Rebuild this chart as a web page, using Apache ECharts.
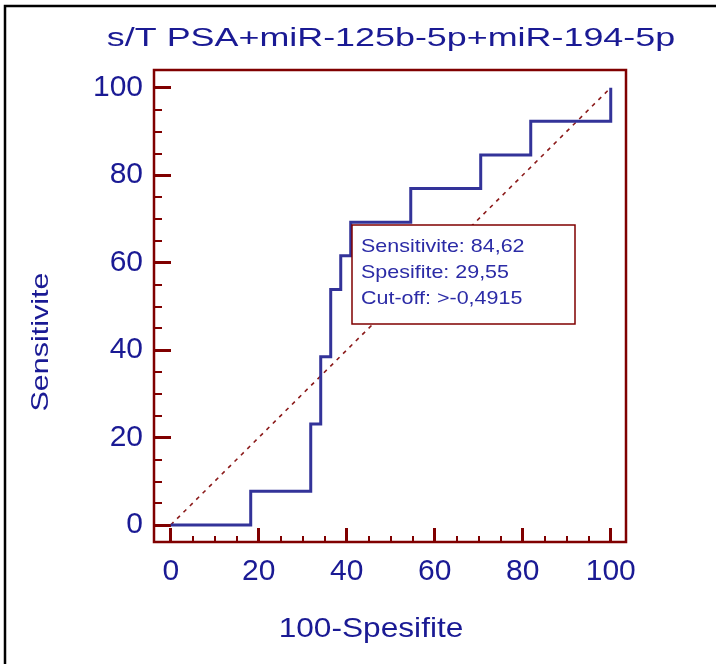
<!DOCTYPE html>
<html>
<head>
<meta charset="utf-8">
<script src="https://cdn.jsdelivr.net/npm/echarts@6/dist/echarts.min.js"></script>
<style>
html,body{margin:0;padding:0;background:#fff;}
#chart{width:716px;height:664px;}
</style>
</head>
<body>
<div id="chart"></div>
<script>
// ---- data ----
const titleText = 's/T PSA+miR-125b-5p+miR-194-5p';
const xAxisName = '100-Spesifite';
const yAxisName = 'Sensitivite';
// ROC step curve vertices (100-Specificity, Sensitivity)
const rocX = [0, 18.18, 18.18, 31.82, 31.82, 34.09, 34.09, 36.36, 36.36, 38.64, 38.64, 40.91, 40.91, 54.55, 54.55, 70.45, 70.45, 81.82, 81.82, 100, 100];
const rocY = [0, 0, 7.69, 7.69, 23.08, 23.08, 38.46, 38.46, 53.85, 53.85, 61.54, 61.54, 69.23, 69.23, 76.92, 76.92, 84.62, 84.62, 92.31, 92.31, 100];
// reference diagonal
const diagX = [0, 100];
const diagY = [0, 100];
// axis ticks
const majorTicks = [0, 20, 40, 60, 80, 100];
const minorTicks = [5, 10, 15, 25, 30, 35, 45, 50, 55, 65, 70, 75, 85, 90, 95];
// annotation
const annotationLines = ['Sensitivite: 84,62', 'Spesifite: 29,55', 'Cut-off: >-0,4915'];

// ---- styles ----
const FONT = "'Liberation Sans', Arial, sans-serif";
const TEXT = '#1a1a94';
const FRAME = '#800000';
const LINE = '#333399';

const xRange = {min: -3.8, max: 103.47};
const yRange = {min: -3.89, max: 104.04};

function xAxisDef(ticks, len, w, labels) {
  return {
    type: 'value', gridIndex: 0, position: 'bottom', min: xRange.min, max: xRange.max,
    axisLine: {show: false, onZero: false}, splitLine: {show: false},
    axisTick: {show: true, inside: true, length: len, customValues: ticks,
      lineStyle: {color: FRAME, width: w}},
    axisLabel: labels ? {show: true, customValues: ticks, fontSize: 30, color: TEXT,
      fontFamily: FONT, margin: 15} : {show: false}
  };
}
function yAxisDef(ticks, len, w, labels) {
  return {
    type: 'value', gridIndex: 0, position: 'left', min: yRange.min, max: yRange.max,
    axisLine: {show: false, onZero: false}, splitLine: {show: false},
    axisTick: {show: true, inside: true, length: len, customValues: ticks,
      lineStyle: {color: FRAME, width: w}},
    axisLabel: labels ? {show: true, customValues: ticks, fontSize: 30, color: TEXT,
      fontFamily: FONT, margin: 11} : {show: false}
  };
}

const chart = echarts.init(document.getElementById('chart'), null, {renderer: 'canvas'});
chart.setOption({
  backgroundColor: '#ffffff',
  animation: false,
  grid: {left: 154, top: 70, right: 90, bottom: 122, show: true,
    borderColor: FRAME, borderWidth: 2.5, backgroundColor: '#ffffff'},
  xAxis: [xAxisDef(majorTicks, 14, 3, true), xAxisDef(minorTicks, 6, 2, false)],
  yAxis: [yAxisDef(majorTicks, 17, 3, true), yAxisDef(minorTicks, 8, 2, false)],
  series: [
    {type: 'line', xAxisIndex: 0, yAxisIndex: 0, symbol: 'none', silent: true,
      data: diagX.map((v, i) => [v, diagY[i]]),
      lineStyle: {color: '#8b1a1a', width: 1.6, type: [4, 5]}},
    {type: 'line', xAxisIndex: 0, yAxisIndex: 0, symbol: 'none', silent: true,
      data: rocX.map((v, i) => [v, rocY[i]]),
      lineStyle: {color: LINE, width: 3, join: 'miter'}}
  ],
  graphic: [
    {type: 'rect', shape: {x: 5, y: 6, width: 900, height: 900}, silent: true,
      style: {fill: 'none', stroke: '#000', lineWidth: 2.5}, z: 100},
    {type: 'text', x: 391, y: 39, scaleX: 1.38, silent: true,
      style: {text: titleText, fontSize: 26, fontFamily: FONT, fill: TEXT,
        textAlign: 'center', textVerticalAlign: 'middle'}},
    {type: 'text', x: 371, y: 629, scaleX: 1.13, silent: true,
      style: {text: xAxisName, fontSize: 28, fontFamily: FONT, fill: TEXT,
        textAlign: 'center', textVerticalAlign: 'middle'}},
    {type: 'text', x: 41, y: 342, rotation: Math.PI / 2, scaleX: 1.27, silent: true,
      style: {text: yAxisName, fontSize: 24, fontFamily: FONT, fill: TEXT,
        textAlign: 'center', textVerticalAlign: 'middle'}},
    {type: 'rect', shape: {x: 352, y: 225, width: 223, height: 99}, silent: true, z: 50,
      style: {fill: '#ffffff', stroke: FRAME, lineWidth: 1.5}},
    ...annotationLines.map((t, i) => ({
      type: 'text', x: 361, y: 247 + i * 26, scaleX: 1.13, silent: true, z: 51,
      style: {text: t, fontSize: 19, fontFamily: FONT, fill: '#2b2ba6',
        textAlign: 'left', textVerticalAlign: 'middle'}
    }))
  ]
});
</script>
</body>
</html>
